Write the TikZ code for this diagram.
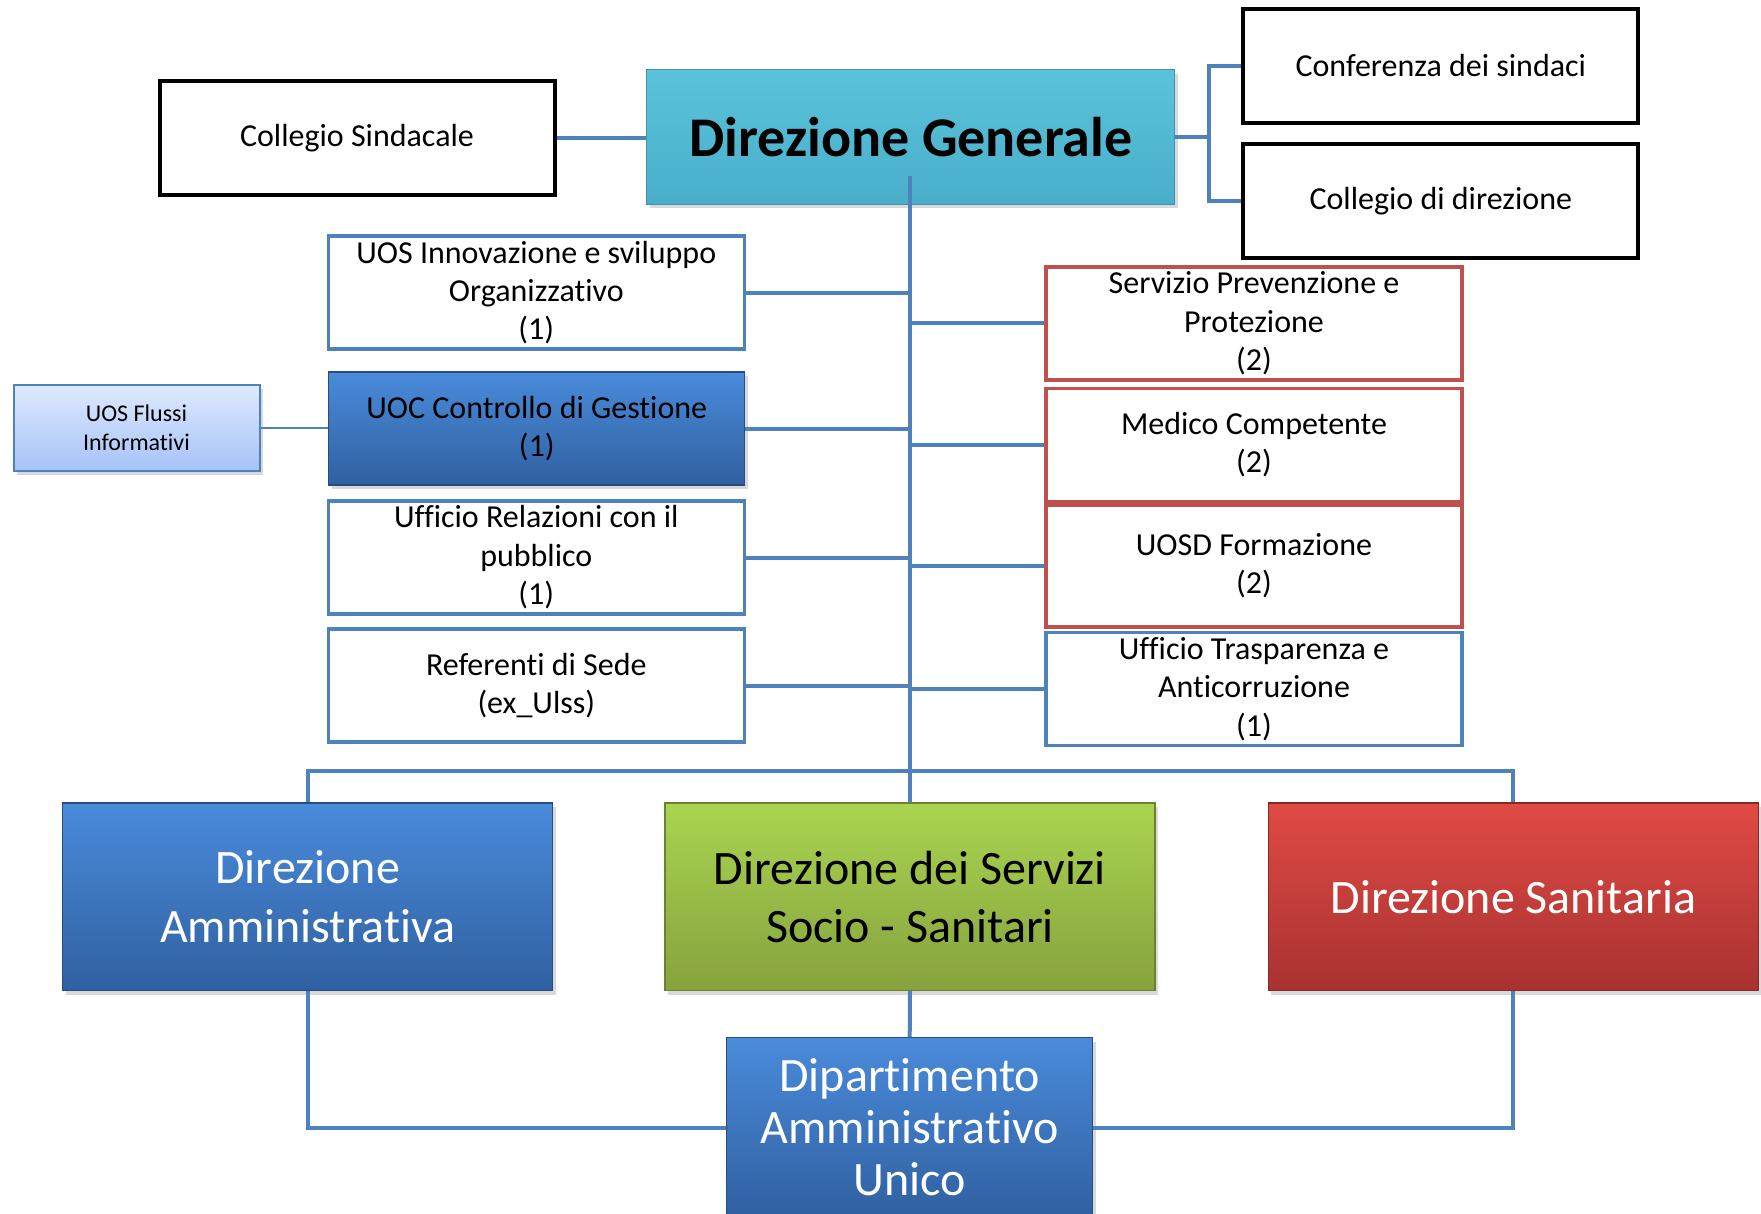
\documentclass[tikz,border=0pt]{standalone}
\usepackage{fontspec}
\setmainfont{Carlito}[Ligatures=NoCommon]
\usetikzlibrary{shadows}

\definecolor{linea}{HTML}{4F81BD}
\definecolor{rosso}{HTML}{C0504D}
\definecolor{tealtop}{HTML}{5AC3DB}
\definecolor{tealbot}{HTML}{4AAECA}
\definecolor{blutop}{HTML}{4A8BDB}
\definecolor{blubot}{HTML}{3060A0}
\definecolor{verdetop}{HTML}{AAD450}
\definecolor{verdebot}{HTML}{86A23E}
\definecolor{rossotop}{HTML}{E04A45}
\definecolor{rossobot}{HTML}{A83230}
\definecolor{chiarotop}{HTML}{DFE9FF}
\definecolor{chiarobot}{HTML}{A5C3F7}

\begin{document}
\begin{tikzpicture}[x=0.5pt,y=-0.5pt,
    conn/.style={linea,line width=2pt},
    ombra/.style={drop shadow={opacity=0.3,shadow xshift=1.5pt,shadow yshift=-2pt}},
    nero/.style={draw=black,line width=2pt,fill=white,minimum width=197.5pt,minimum height=57pt,
        inner sep=0pt,font=\fontsize{16}{19.2}\selectfont},
    ufficio/.style={draw=linea,line width=1.7pt,fill=white,minimum width=208pt,minimum height=56.5pt,
        align=center,inner sep=0pt,font=\fontsize{16}{19.2}\selectfont},
    staff/.style={ufficio,draw=rosso},
    blu/.style={top color=blutop,bottom color=blubot,draw=blubot!80!black,line width=0.6pt},
    verde/.style={top color=verdetop,bottom color=verdebot,draw=verdebot!80!black,line width=0.6pt},
    rossa/.style={top color=rossotop,bottom color=rossobot,draw=rossobot!80!black,line width=0.6pt},
    direzione/.style={ombra,minimum width=245pt,minimum height=93.8pt,align=center,
        inner sep=0pt,font=\fontsize{24}{29.2}\selectfont}]

\useasboundingbox (0,0) rectangle (1761,1214);

\node[nero] (cs) at (357,138) {Collegio Sindacale};
\node[ombra,top color=tealtop,bottom color=tealbot,draw=tealbot!85!black,line width=0.6pt,
    minimum width=264pt,minimum height=67.4pt,font=\fontsize{28}{33}\selectfont\bfseries] (dg) at (910.8,137) {Direzione Generale};
\node[nero] (conf) at (1440.8,65.7) {Conferenza dei sindaci};
\node[nero] (cdir) at (1440.8,201.5) {Collegio di direzione};

\node[ufficio] (uosi) at (536.3,292.6) {UOS Innovazione e sviluppo\\Organizzativo\\(1)};
\node[ufficio,blu,ombra,line width=0.6pt] (uoc) at (536.8,428.5) {UOC Controllo di Gestione\\(1)};
\node[ombra,top color=chiarotop,bottom color=chiarobot,draw=linea,line width=1pt,minimum width=123pt,
    minimum height=42.8pt,align=center,inner sep=0pt,font=\fontsize{12}{14.6}\selectfont] (flussi) at (136.5,427.8) {UOS Flussi\\Informativi};
\node[ufficio] (urp) at (536.3,557.5) {Ufficio Relazioni con il\\pubblico\\(1)};
\node[ufficio] (ref) at (536.3,685.5) {Referenti di Sede\\(ex\_Ulss)};

\node[staff] (spp) at (1254,323.4) {Servizio Prevenzione e\\Protezione\\(2)};
\node[staff] (med) at (1254,444.8) {Medico Competente\\(2)};
\node[staff,minimum height=61pt] (uosd) at (1254,566) {UOSD Formazione\\(2)};
\node[ufficio] (trasp) at (1254,688.9) {Ufficio Trasparenza e\\Anticorruzione\\(1)};

\node[direzione,blu,text=white] (dam) at (307.7,896.8) {Direzione\\Amministrativa};
\node[direzione,verde] (dss) at (910,896.8) {Direzione dei Servizi\\Socio - Sanitari};
\node[direzione,rossa,text=white] (dsan) at (1513.4,896.8) {Direzione Sanitaria};
\node[direzione,blu,text=white,minimum width=183pt,minimum height=89.7pt,
    font=\fontsize{24}{26}\selectfont] (dau) at (909.7,1127.5) {Dipartimento\\Amministrativo\\Unico};

\coordinate (top) at (910,176);
\coordinate (bus) at (910,770.5);
\coordinate (brk) at (1208.5,137);

\draw[conn] (cs.east) -- (cs.east -| dg.west);
\draw[conn] (dg.east) -- (brk);
\draw[conn] (conf.west) -| (brk) |- (cdir.west);
\draw[conn] (top) -- (dss.north);

\draw[conn] (uosi.east) -- (uosi.east -| top);
\draw[conn] (uoc.east) -- (uoc.east -| top);
\draw[conn] (urp.east) -- (urp.east -| top);
\draw[conn] (ref.east) -- (ref.east -| top);
\draw[linea,line width=1pt] (flussi.east) -- (flussi.east -| uoc.west);

\draw[conn] (spp.west) -- (spp.west -| top);
\draw[conn] (med.west) -- (med.west -| top);
\draw[conn] (uosd.west) -- (uosd.west -| top);
\draw[conn] (trasp.west) -- (trasp.west -| top);

\draw[conn] (dam.north) |- (bus) -| (dsan.north);
\draw[conn] (dss.south) -- (dau.north);
\draw[conn] (dam.south) |- (dau.west);
\draw[conn] (dsan.south) |- (dau.east);
\end{tikzpicture}
\end{document}
